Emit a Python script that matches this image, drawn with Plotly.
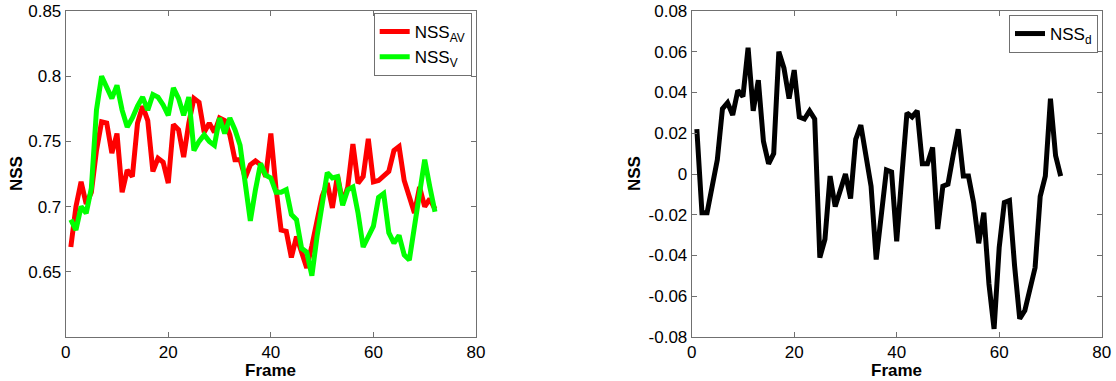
import plotly.graph_objects as go

frames = list(range(1, 73))

nss_av = [0.669, 0.700, 0.719, 0.702, 0.711, 0.743, 0.765, 0.764, 0.741, 0.756,
          0.711, 0.728, 0.723, 0.764, 0.777, 0.766, 0.727, 0.737, 0.734, 0.718,
          0.763, 0.759, 0.738, 0.764, 0.783, 0.780, 0.757, 0.764, 0.757, 0.768,
          0.766, 0.755, 0.736, 0.736, 0.722, 0.732, 0.735, 0.732, 0.723, 0.756,
          0.714, 0.682, 0.681, 0.661, 0.677, 0.664, 0.653, 0.670, 0.688, 0.708,
          0.718, 0.699, 0.724, 0.703, 0.715, 0.748, 0.718, 0.723, 0.752, 0.719,
          0.720, 0.723, 0.727, 0.743, 0.746, 0.720, 0.706, 0.695, 0.715, 0.700,
          0.706, 0.698]

nss_v = [0.690, 0.682, 0.700, 0.695, 0.714, 0.774, 0.800, 0.792, 0.783, 0.793,
         0.774, 0.761, 0.768, 0.777, 0.784, 0.774, 0.786, 0.784, 0.778, 0.770,
         0.791, 0.783, 0.770, 0.784, 0.743, 0.750, 0.755, 0.750, 0.747, 0.768,
         0.756, 0.768, 0.759, 0.747, 0.716, 0.689, 0.713, 0.733, 0.724, 0.722,
         0.711, 0.711, 0.713, 0.694, 0.690, 0.668, 0.665, 0.647, 0.677, 0.700,
         0.726, 0.722, 0.723, 0.701, 0.713, 0.715, 0.695, 0.669, 0.677, 0.685,
         0.707, 0.710, 0.680, 0.672, 0.678, 0.663, 0.659, 0.685, 0.715, 0.736,
         0.715, 0.696]

nss_d = [0.022, -0.019, -0.019, -0.005, 0.007, 0.032, 0.035, 0.029, 0.041, 0.038,
         0.062, 0.031, 0.046, 0.016, 0.005, 0.010, 0.060, 0.052, 0.037, 0.051,
         0.028, 0.027, 0.031, 0.027, -0.041, -0.032, -0.001, -0.016, -0.008, 0.000,
         -0.012, 0.017, 0.024, 0.009, -0.006, -0.042, -0.020, 0.002, 0.001, -0.033,
         -0.001, 0.030, 0.028, 0.031, 0.005, 0.005, 0.013, -0.027, -0.006, -0.005,
         0.009, 0.022, -0.001, -0.001, -0.014, -0.034, -0.019, -0.054, -0.076, -0.036,
         -0.014, -0.013, -0.045, -0.071, -0.067, -0.057, -0.046, -0.011, -0.001, 0.037,
         0.009, -0.001]

left_yticks = [0.65, 0.7, 0.75, 0.8, 0.85]
right_yticks = [-0.08, -0.06, -0.04, -0.02, 0, 0.02, 0.04, 0.06, 0.08]
right_yticktext = ["-0.08", "-0.06", "-0.04", "-0.02", "0", "0.02", "0.04", "0.06", "0.08"]
xticks = [0, 20, 40, 60, 80]

FONT = "Liberation Sans, Arial, sans-serif"
AXC = "#707070"

W, H = 1116, 381


def px(x):
    return x / W


def py(y):
    return 1 - y / H


fig = go.Figure()
fig.add_trace(go.Scatter(x=frames, y=nss_av, mode="lines", name="NSS<sub>AV</sub>",
                         line=dict(color="#ff0000", width=5), xaxis="x", yaxis="y",
                         legend="legend"))
fig.add_trace(go.Scatter(x=frames, y=nss_v, mode="lines", name="NSS<sub>V</sub>",
                         line=dict(color="#00ff00", width=5), xaxis="x", yaxis="y",
                         legend="legend"))
fig.add_trace(go.Scatter(x=frames, y=nss_d, mode="lines", name="NSS<sub>d</sub>",
                         line=dict(color="#000000", width=5), xaxis="x2", yaxis="y2",
                         legend="legend2"))

axis_common = dict(showline=True, linecolor=AXC, linewidth=1, mirror="allticks",
                   ticks="inside", ticklen=5, tickcolor=AXC, showgrid=False,
                   zeroline=False, automargin=False, ticklabeloverflow="allow",
                   tickfont=dict(family=FONT, size=17, color="black"))

ydom = [py(337), py(11)]
fig.update_layout(
    width=W, height=H,
    margin=dict(l=0, r=0, t=0, b=0),
    paper_bgcolor="white", plot_bgcolor="white",
    font=dict(family=FONT, size=17, color="black"),
    xaxis=dict(domain=[px(65.7), px(476)], range=[0, 80], tickvals=xticks,
               anchor="y", **axis_common),
    yaxis=dict(domain=ydom, range=[0.6, 0.85], tickvals=left_yticks, anchor="x",
               **axis_common),
    xaxis2=dict(domain=[px(691.7), px(1101.7)], range=[0, 80], tickvals=xticks,
                anchor="y2", **axis_common),
    yaxis2=dict(domain=ydom, range=[-0.08, 0.08], tickvals=right_yticks,
                ticktext=right_yticktext, anchor="x2", **axis_common),
    legend=dict(x=px(471.7), y=py(13), xanchor="right", yanchor="top",
                bgcolor="white", bordercolor=AXC, borderwidth=1,
                font=dict(family=FONT, size=17), itemwidth=30, tracegroupgap=0),
    legend2=dict(x=px(1098), y=py(15), xanchor="right", yanchor="top",
                 bgcolor="white", bordercolor=AXC, borderwidth=1,
                 font=dict(family=FONT, size=17), itemwidth=30),
    showlegend=True,
)

titles = [
    dict(text="<b>Frame</b>", x=px(270.8), y=py(370.5), textangle=0),
    dict(text="<b>Frame</b>", x=px(896.7), y=py(370.5), textangle=0),
    dict(text="<b>NSS</b>", x=px(16), y=py(174), textangle=-90),
    dict(text="<b>NSS</b>", x=px(634), y=py(174), textangle=-90),
]
for t in titles:
    fig.add_annotation(text=t["text"], x=t["x"], y=t["y"], xref="paper", yref="paper",
                       xanchor="center", yanchor="middle", textangle=t["textangle"],
                       showarrow=False, font=dict(family=FONT, size=17, color="black"))

# remove the default 8px page margin so the figure sits at the window's top-left
fig.write_html("out.html", config={"displayModeBar": False},
               post_script="document.body.style.margin='0px';")
